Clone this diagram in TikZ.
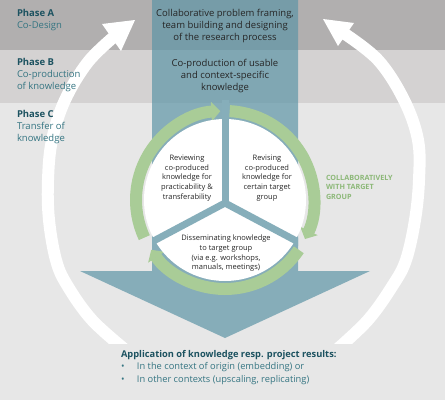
\documentclass[tikz,border=0pt]{standalone}
\usepackage{fontspec}
\setmainfont{Open Sans}
\usetikzlibrary{arrows.meta}
\definecolor{bandA}{HTML}{B1AFAF}
\definecolor{bandB}{HTML}{D4D2D2}
\definecolor{bandC}{HTML}{E7E7E7}
\definecolor{colteal}{RGB}{93,149,166}
\definecolor{divteal}{HTML}{86AEBA}
\definecolor{ringgreen}{HTML}{A9CC97}
\definecolor{greentext}{HTML}{8CB878}
\definecolor{phasedark}{HTML}{1C5260}
\definecolor{phaselight}{HTML}{357582}
\definecolor{bodytext}{HTML}{262626}
\begin{document}
\begin{tikzpicture}[x=1pt,y=1pt,
  every node/.style={inner sep=0pt, outer sep=0pt},
  phaselbl/.style={anchor=north west, align=left, font=\fontsize{9.5}{12}\selectfont, text=phaselight},
  coltext/.style={anchor=north, align=center, font=\fontsize{9.5}{12.2}\selectfont, text=bodytext},
  sectext/.style={anchor=north, align=center, font=\fontsize{7.5}{9.7}\selectfont, text=bodytext},
  ringarc/.style={draw=ringgreen, line width=12pt, -{Triangle[length=9pt,width=19pt]}},
  bigshaft/.style={draw=white, line width=12pt},
  bighead/.style={fill=white},
  divider/.style={draw=divteal, line width=7pt}]
\useasboundingbox (0,0) rectangle (445,-400);
% bands
\fill[bandC] (0,0) rectangle (445,-400);
\fill[bandA] (0,0) rectangle (445,-50);
\fill[bandB] (0,-50) rectangle (445,-103);
% big white arrows
\begin{scope}
\clip (0,0) rectangle (445,-343);
\draw[bigshaft] plot[smooth, tension=0.6] coordinates {(128,-352) (92,-320) (67,-285) (56,-260) (49,-220) (48,-180) (52,-140) (65,-100) (88,-62) (116,-35)};
\draw[bigshaft] plot[smooth, tension=0.6] coordinates {(334,-352) (368,-320) (393,-285) (406,-260) (415,-220) (419,-180) (418,-140) (404,-100) (378,-60) (342,-32)};
\end{scope}
\fill[bighead] (135,-20) -- (102,-24) -- (121,-51) -- cycle;
\fill[bighead] (323,-19) -- (354,-23) -- (338,-46) -- cycle;
% column with arrow head
\fill[colteal, fill opacity=0.7] (152,0) -- (298,0) -- (298,-271) -- (370,-271) -- (225,-338) -- (80,-271) -- (152,-271) -- cycle;
% green ring
\draw[ringarc] (225,-200) ++(205:89pt) arc[start angle=205, end angle=93, radius=89pt];
\draw[ringarc] (225,-200) ++(87:89pt) arc[start angle=87, end angle=-26, radius=89pt];
\draw[ringarc] (225,-200) ++(-34:89pt) arc[start angle=-34, end angle=-146, radius=89pt];
% white disc
\fill[white] (225,-200) circle[radius=81pt];
% dividers
\begin{scope}
\clip (152,0) rectangle (298,-271);
\coordinate (J) at (225,-203);
\draw[divider] (J) -- (225,-100);
\draw[divider] (J) -- ++(208:100pt);
\draw[divider] (J) -- ++(-28:100pt);
\end{scope}
% phase labels
\node[phaselbl] (pa) at (17,-9.3) {\textcolor{phasedark}{\bfseries Phase A}\\Co-Design};
\node[phaselbl] (pb) at (17,-58.3) {\textcolor{phasedark}{\bfseries Phase B}\\Co-production\\of knowledge};
\node[phaselbl] (pc) at (17,-110.7) {\textcolor{phasedark}{\bfseries Phase C}\\Transfer of\\knowledge};
% column texts
\node[coltext] (ca) at (225,-9.3) {Collaborative problem framing,\\team building and designing\\of the research process};
\node[coltext] (cb) at (225,-59.3) {Co-production of usable\\and context-specific\\knowledge};
% sector texts
\node[sectext] (s1) at (187,-155) {Reviewing\\co-produced\\knowledge for\\practicability \&\\transferability};
\node[sectext] (s2) at (267,-155) {Revising\\co-produced\\knowledge for\\certain target\\group};
\node[sectext] (s3) at (226,-235) {Disseminating knowledge\\to target group\\(via e.g. workshops,\\manuals, meetings)};
% green label
\node[anchor=north west, align=left, font=\fontsize{7.2}{9.5}\selectfont\bfseries, text=greentext] (collab) at (326,-175) {COLLABORATIVELY\\WITH TARGET\\GROUP};
% bottom text
\node[anchor=north west, align=left, font=\fontsize{9.3}{12.5}\selectfont, text=phaselight] (app) at (121,-350) {\textcolor{phasedark}{\bfseries Application of knowledge resp. project results:}\\\makebox[16pt][l]{\textbullet}In the context of origin (embedding) or\\\makebox[16pt][l]{\textbullet}In other contexts (upscaling, replicating)};
\end{tikzpicture}
\end{document}
